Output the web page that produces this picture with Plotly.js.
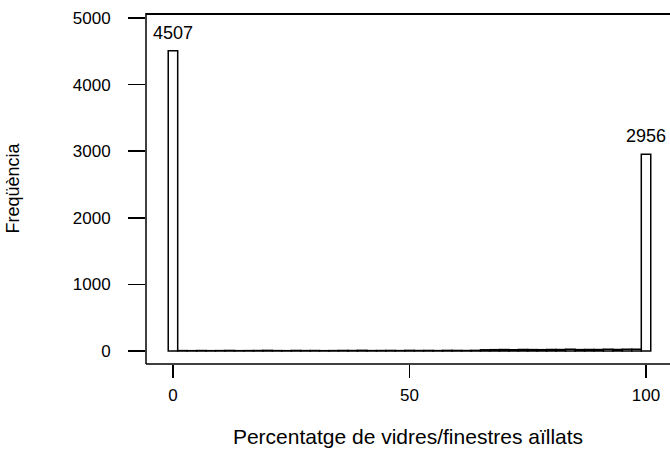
<!DOCTYPE html>
<html>
<head>
<meta charset="utf-8">
<script src="https://cdn.plot.ly/plotly-3.0.1.min.js"></script>
<style>html,body{margin:0;padding:0;background:#fff;}#chart{width:670px;height:461px;}</style>
</head>
<body>
<div id="chart"></div>
<script>
// Bin centres (percentage, bins of width 2)
const binCenters = [0,2,4,6,8,10,12,14,16,18,20,22,24,26,28,30,32,34,36,38,40,42,44,46,48,50,
  52,54,56,58,60,62,64,66,68,70,72,74,76,78,80,82,84,86,88,90,92,94,96,98,100];
// Frequencies (middle bins are tiny, read as near-zero)
const binCounts = [4507,6,5,7,5,6,8,5,6,7,9,6,5,8,6,7,5,6,8,7,10,6,7,8,6,9,
  7,8,6,9,8,7,9,18,20,22,19,24,21,20,23,22,25,21,24,22,26,23,25,28,2956];
const labelX = [0, 100];
const labelText = ['4507', '2956'];
const labelY = [4507, 2956];
const yTicks = [0, 1000, 2000, 3000, 4000, 5000];
const xTicks = [0, 50, 100];

const font = 'Liberation Sans, Arial, sans-serif';

const trace = {
  type: 'bar',
  x: binCenters,
  y: binCounts,
  width: 2,
  marker: {color: '#ffffff', line: {color: '#000000', width: 1.5}},
  hoverinfo: 'x+y'
};

const annotations = labelX.map((x, i) => ({
  x: x, y: labelY[i], text: labelText[i], showarrow: false,
  xanchor: 'center', yanchor: 'bottom', yshift: 6,
  font: {family: font, size: 18, color: '#000'}
}));

const frameLine = {type: 'line', xref: 'paper', yref: 'paper', layer: 'above', line: {color: '#000', width: 1.5}};
const shapes = [
  Object.assign({}, frameLine, {x0: 0, x1: 0, y0: 0, y1: 1}),
  Object.assign({}, frameLine, {x0: 0, x1: 1, y0: 0, y1: 0}),
  Object.assign({}, frameLine, {x0: 0, x1: 1, y0: 0.997, y1: 0.997, line: {color: '#000', width: 2}})
];

const layout = {
  width: 670, height: 461,
  margin: {l: 146, r: 0, t: 13, b: 97, pad: 0},
  paper_bgcolor: '#fff', plot_bgcolor: '#fff',
  showlegend: false,
  bargap: 0,
  xaxis: {
    range: [-5.7, 105.07],
    tickvals: xTicks, ticktext: xTicks.map(String),
    showgrid: false, zeroline: false, showline: false,
    ticks: 'outside', ticklen: 13, tickwidth: 1.5, tickcolor: '#000',
    tickfont: {family: font, size: 17, color: '#000'},
    ticklabelstandoff: 3,
    title: {text: 'Percentatge de vidres/finestres aïllats', standoff: 24,
            font: {family: font, size: 21, color: '#000'}}
  },
  yaxis: {
    range: [-195, 5075],
    tickvals: yTicks, ticktext: yTicks.map(String),
    showgrid: false, zeroline: false, showline: false,
    ticks: 'outside', ticklen: 17, tickwidth: 1.5, tickcolor: '#000',
    tickfont: {family: font, size: 17, color: '#000'},
    ticklabelstandoff: 14,
    title: {text: 'Freqüència', standoff: 48,
            font: {family: font, size: 18, color: '#000'}}
  },
  shapes: shapes,
  annotations: annotations
};

Plotly.newPlot('chart', [trace], layout, {displayModeBar: false, staticPlot: true});
</script>
</body>
</html>
